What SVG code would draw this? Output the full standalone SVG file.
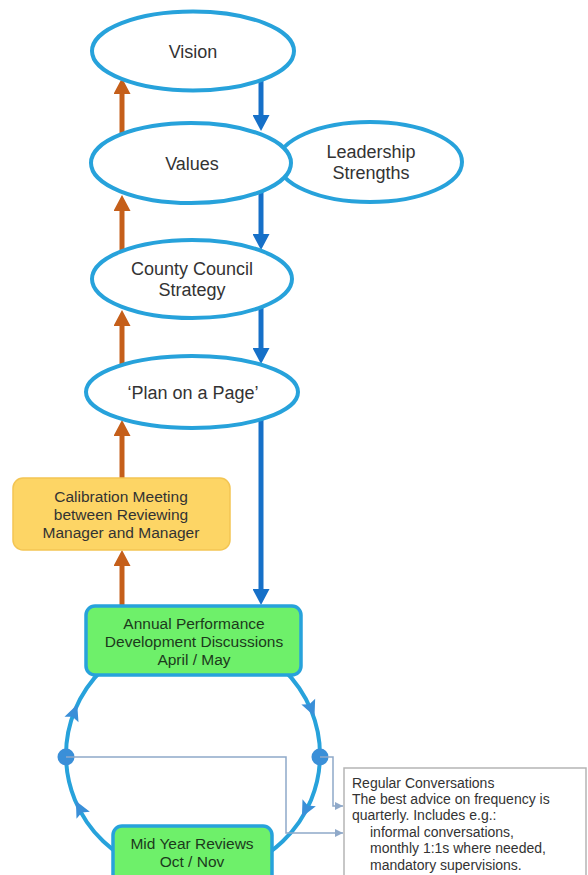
<svg xmlns="http://www.w3.org/2000/svg" width="588" height="875" viewBox="0 0 588 875">
<style>
.ell{fill:#fff;stroke:#27a2db;stroke-width:4}
.lbl{font-family:"Liberation Sans",Arial,sans-serif;font-size:18px;fill:#333;text-anchor:middle}
.box{font-family:"Liberation Sans",Arial,sans-serif;font-size:15.5px;text-anchor:middle}
.note{font-family:"Liberation Sans",Arial,sans-serif;font-size:14px;fill:#333}
.up{stroke:#c55f1a;stroke-width:5;fill:none}
.down{stroke:#1670c8;stroke-width:5;fill:none}
.thin{stroke:#8fa9c9;stroke-width:1.5;fill:none}
.green{fill:#6ef06a;stroke:#27a2db;stroke-width:3.5}
</style>
<defs>
<marker id="ho" markerUnits="userSpaceOnUse" markerWidth="16" markerHeight="17" viewBox="0 0 16 17" refX="0" refY="8.5" orient="auto"><path d="M0,0 L16,8.5 L0,17 z" fill="#c55f1a"/></marker>
<marker id="hb" markerUnits="userSpaceOnUse" markerWidth="16" markerHeight="17" viewBox="0 0 16 17" refX="0" refY="8.5" orient="auto"><path d="M0,0 L16,8.5 L0,17 z" fill="#1670c8"/></marker>
<marker id="ht" markerUnits="userSpaceOnUse" markerWidth="8" markerHeight="8" viewBox="0 0 8 8" refX="8" refY="4" orient="auto"><path d="M0,0 L8,4 L0,8 z" fill="#8fa9c9"/></marker>
<path id="ca" d="M9,0 L-7,-7.5 L-4,0 L-7,7.5 z" fill="#3a8fd8"/>
</defs>

<g id="connectors">
  <ellipse cx="193" cy="755" rx="127" ry="122" fill="none" stroke="#27a2db" stroke-width="4"/>
  <use href="#ca" transform="translate(74,713) rotate(-69)"/>
  <use href="#ca" transform="translate(80,809) rotate(-117)"/>
  <use href="#ca" transform="translate(311,708) rotate(67)"/>
  <use href="#ca" transform="translate(306,809) rotate(117)"/>
  <circle cx="66" cy="757" r="8.5" fill="#3a8fd8"/>
  <circle cx="320" cy="757" r="8.5" fill="#3a8fd8"/>
  <path class="thin" d="M66,757 H286 V833 H343" marker-end="url(#ht)"/>
  <path class="thin" d="M320,757 H333 V806 H343" marker-end="url(#ht)"/>

  <line class="up" x1="122" y1="133" x2="122" y2="94" marker-end="url(#ho)"/>
  <line class="up" x1="122" y1="250" x2="122" y2="211" marker-end="url(#ho)"/>
  <line class="up" x1="122" y1="365" x2="122" y2="326" marker-end="url(#ho)"/>
  <line class="up" x1="122" y1="478" x2="122" y2="436" marker-end="url(#ho)"/>
  <line class="up" x1="122" y1="606" x2="122" y2="566" marker-end="url(#ho)"/>

  <line class="down" x1="261" y1="78" x2="261" y2="115" marker-end="url(#hb)"/>
  <line class="down" x1="261" y1="191" x2="261" y2="234" marker-end="url(#hb)"/>
  <line class="down" x1="261" y1="307" x2="261" y2="348" marker-end="url(#hb)"/>
  <line class="down" x1="261" y1="419" x2="261" y2="589" marker-end="url(#hb)"/>
</g>

<g id="vision">
  <ellipse class="ell" cx="193" cy="51" rx="101" ry="39.5"/>
  <text class="lbl" x="193" y="58">Vision</text>
</g>
<g id="leadership">
  <ellipse class="ell" cx="370" cy="162" rx="92" ry="40"/>
  <text class="lbl" x="371" y="158">Leadership</text>
  <text class="lbl" x="371" y="179">Strengths</text>
</g>
<g id="values">
  <ellipse class="ell" cx="191" cy="163" rx="100" ry="40"/>
  <text class="lbl" x="192" y="170">Values</text>
</g>
<g id="county">
  <ellipse class="ell" cx="192" cy="279" rx="100" ry="39"/>
  <text class="lbl" x="192" y="275">County Council</text>
  <text class="lbl" x="192" y="296">Strategy</text>
</g>
<g id="plan">
  <ellipse class="ell" cx="192" cy="392" rx="106" ry="36"/>
  <text class="lbl" x="193" y="399">‘Plan on a Page’</text>
</g>

<g id="calibration">
  <rect x="13" y="478" width="217" height="72" rx="10" fill="#fdd565" stroke="#f3c553" stroke-width="1.5"/>
  <text class="box" x="121" y="501.5" fill="#333">Calibration Meeting</text>
  <text class="box" x="121" y="519.5" fill="#333">between Reviewing</text>
  <text class="box" x="121" y="537.5" fill="#333">Manager and Manager</text>
</g>

<g id="annual">
  <rect class="green" x="86" y="606" width="215" height="69" rx="9"/>
  <text class="box" x="194" y="628.5" fill="#1c3a1c">Annual Performance</text>
  <text class="box" x="194" y="646.5" fill="#1c3a1c">Development Discussions</text>
  <text class="box" x="194" y="664.5" fill="#1c3a1c">April / May</text>
</g>

<g id="midyear">
  <rect class="green" x="113" y="826" width="159" height="60" rx="9"/>
  <text class="box" x="192" y="848.5" fill="#1c3a1c">Mid Year Reviews</text>
  <text class="box" x="192" y="866.5" fill="#1c3a1c">Oct / Nov</text>
</g>

<g id="regular">
  <rect x="344" y="768" width="242" height="120" fill="#fff" stroke="#b5b5b5" stroke-width="1.5"/>
  <text class="note" x="352" y="788">Regular Conversations</text>
  <text class="note" x="352" y="804">The best advice on frequency is</text>
  <text class="note" x="352" y="820">quarterly. Includes e.g.:</text>
  <text class="note" x="370" y="837">informal conversations,</text>
  <text class="note" x="370" y="853">monthly 1:1s where needed,</text>
  <text class="note" x="370" y="870">mandatory supervisions.</text>
</g>
</svg>
